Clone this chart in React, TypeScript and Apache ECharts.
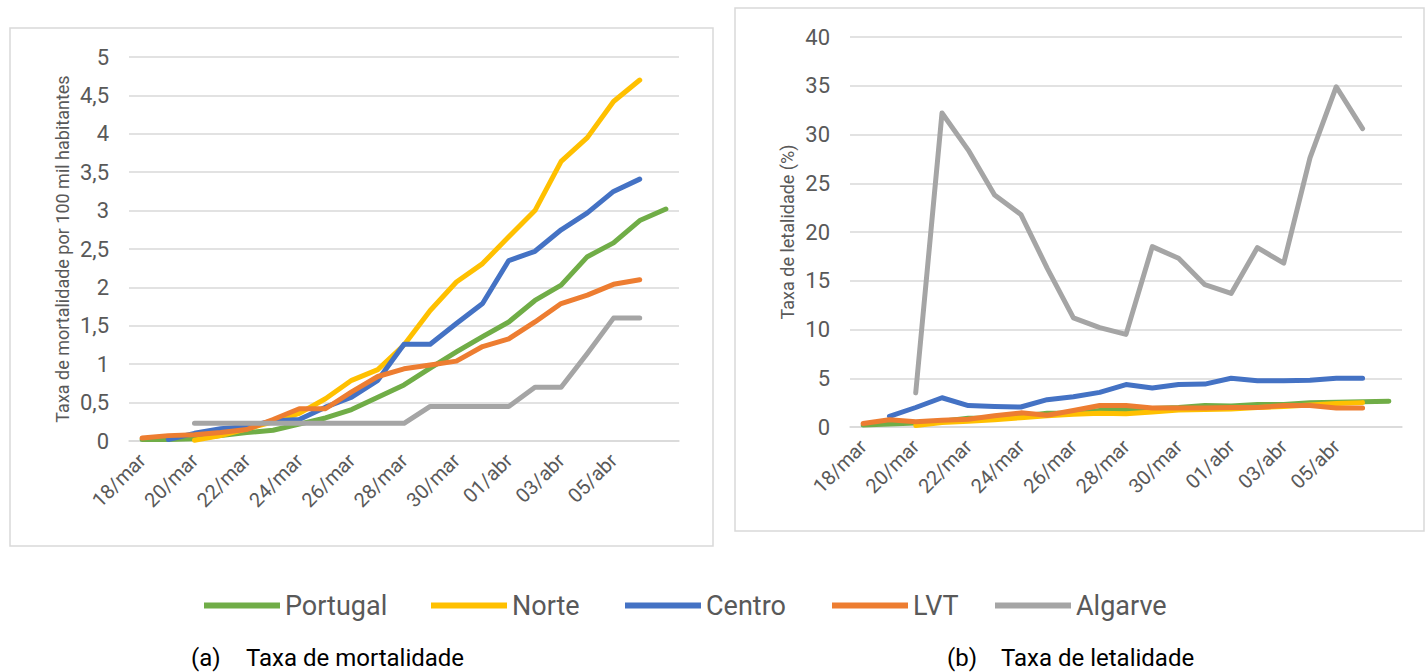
import React, { useEffect, useRef } from "react";
import * as echarts from "echarts";

const dates = [
  "18/mar", "19/mar", "20/mar", "21/mar", "22/mar", "23/mar", "24/mar",
  "25/mar", "26/mar", "27/mar", "28/mar", "29/mar", "30/mar", "31/mar",
  "01/abr", "02/abr", "03/abr", "04/abr", "05/abr", "06/abr", "07/abr",
];

const seriesNames = ["Portugal", "Norte", "Centro", "LVT", "Algarve"];
const seriesColors = ["#70AD47", "#FFC000", "#4472C4", "#ED7D31", "#A5A5A5"];

// (a) Taxa de mortalidade por 100 mil habitantes
const mortPortugal = [0.02, 0.02, 0.03, 0.07, 0.11, 0.14, 0.22, 0.3, 0.41, 0.57, 0.73, 0.95, 1.16, 1.36, 1.55, 1.83, 2.03, 2.4, 2.58, 2.87, 3.02];
const mortNorte = [null, null, 0.01, 0.07, 0.16, 0.25, 0.36, 0.55, 0.79, 0.93, 1.25, 1.7, 2.07, 2.31, 2.66, 3.0, 3.64, 3.95, 4.42, 4.7, null];
const mortCentro = [null, 0.02, 0.1, 0.16, 0.19, 0.26, 0.28, 0.44, 0.57, 0.79, 1.26, 1.26, 1.53, 1.79, 2.35, 2.47, 2.75, 2.97, 3.25, 3.41, null];
const mortLVT = [0.04, 0.07, 0.08, 0.11, 0.15, 0.28, 0.42, 0.42, 0.64, 0.84, 0.94, 0.99, 1.04, 1.23, 1.33, 1.55, 1.79, 1.9, 2.04, 2.1, null];
const mortAlgarve = [null, null, 0.23, 0.23, 0.23, 0.23, 0.23, 0.23, 0.23, 0.23, 0.23, 0.45, 0.45, 0.45, 0.45, 0.7, 0.7, 1.14, 1.6, 1.6, null];

// (b) Taxa de letalidade (%)
const letPortugal = [0.2, 0.3, 0.4, 0.6, 0.9, 0.9, 1.1, 1.4, 1.4, 1.7, 1.8, 1.9, 2.0, 2.2, 2.15, 2.3, 2.3, 2.5, 2.55, 2.6, 2.65];
const letNorte = [null, null, 0.15, 0.45, 0.6, 0.75, 0.95, 1.15, 1.3, 1.4, 1.35, 1.55, 1.75, 1.8, 1.85, 2.0, 2.1, 2.25, 2.4, 2.5, null];
const letCentro = [null, 1.1, 2.0, 3.0, 2.2, 2.1, 2.05, 2.8, 3.1, 3.55, 4.35, 4.0, 4.35, 4.4, 5.0, 4.75, 4.75, 4.8, 5.0, 5.0, null];
const letLVT = [0.35, 0.75, 0.55, 0.7, 0.8, 1.15, 1.45, 1.2, 1.7, 2.2, 2.2, 1.95, 1.95, 1.95, 2.0, 2.0, 2.2, 2.2, 1.95, 1.95, null];
const letAlgarve = [null, null, 3.5, 32.2, 28.4, 23.8, 21.8, 16.3, 11.2, 10.2, 9.5, 18.5, 17.3, 14.6, 13.7, 18.4, 16.8, 27.6, 34.9, 30.6, null];

const mortData = [mortPortugal, mortNorte, mortCentro, mortLVT, mortAlgarve];
const letData = [letPortugal, letNorte, letCentro, letLVT, letAlgarve];

const captionALabel = "(a)";
const captionAText = "Taxa de mortalidade";
const captionBLabel = "(b)";
const captionBText = "Taxa de letalidade";
const yNameA = "Taxa de mortalidade por 100 mil habitantes";
const yNameB = "Taxa de letalidade (%)";

const FONT = "Roboto, 'Noto Sans', sans-serif";
const LABEL = "#595959";
const GRID = "#D9D9D9";
const legendLefts = [199, 426, 620, 827, 990];

export default function App() {
  const ref = useRef<HTMLDivElement>(null);

  useEffect(() => {
    document.body.style.margin = "0";
    const chart = echarts.init(ref.current!, null, { renderer: "svg" });

    const xAxisBase = (gridIndex: number) => ({
      type: "category" as const,
      gridIndex,
      data: dates,
      boundaryGap: true,
      axisTick: { show: false },
      axisLine: { show: true, lineStyle: { color: GRID, width: 1.5 } },
      axisLabel: {
        rotate: 45,
        interval: (i: number) => i % 2 === 0 && i < dates.length - 1,
        color: LABEL,
        fontSize: 20,
        fontFamily: FONT,
        margin: 16,
      },
    });

    const yAxisBase = (gridIndex: number, max: number, interval: number, name: string, nameGap: number) => ({
      type: "value" as const,
      gridIndex,
      min: 0,
      max,
      interval,
      name,
      nameLocation: "middle" as const,
      nameGap,
      nameTextStyle: { color: LABEL, fontSize: 18, fontFamily: FONT },
      axisLine: { show: false },
      axisTick: { show: false },
      splitLine: { lineStyle: { color: GRID, width: 1.5 } },
      axisLabel: {
        color: LABEL,
        fontSize: 22,
        fontFamily: FONT,
        margin: 20,
        formatter: (v: number) => String(v).replace(".", ","),
      },
    });

    const mkSeries = (data: (number | null)[][], axisIndex: number) =>
      seriesNames.map((name, k) => ({
        name,
        type: "line" as const,
        xAxisIndex: axisIndex,
        yAxisIndex: axisIndex,
        data: data[k],
        color: seriesColors[k],
        symbol: "none",
        connectNulls: false,
        lineStyle: { width: 5, color: seriesColors[k], cap: "round", join: "round" },
      }));

    const capStyle = { fontSize: 24, fill: "#000000", fontFamily: FONT };

    chart.setOption({
      animation: false,
      backgroundColor: "#ffffff",
      grid: [
        { left: 129, top: 57, width: 550, height: 384 },
        { left: 850, top: 37, width: 552, height: 390 },
      ],
      xAxis: [xAxisBase(0), xAxisBase(1)],
      yAxis: [
        yAxisBase(0, 5, 0.5, yNameA, 58),
        yAxisBase(1, 40, 5, yNameB, 54),
      ],
      legend: seriesNames.map((n, k) => ({
        data: [n],
        left: legendLefts[k],
        top: 587,
        icon: "rect",
        itemWidth: 76,
        itemHeight: 6,
        selectedMode: false,
        textStyle: { color: LABEL, fontSize: 27, fontFamily: FONT },
      })),
      graphic: [
        {
          type: "rect",
          shape: { x: 10, y: 28, width: 703, height: 518 },
          style: { fill: "none", stroke: GRID, lineWidth: 1.5 },
          z: -1,
        },
        {
          type: "rect",
          shape: { x: 735, y: 8, width: 689, height: 523 },
          style: { fill: "none", stroke: GRID, lineWidth: 1.5 },
          z: -1,
        },
        { type: "text", left: 191, top: 646, style: { ...capStyle, text: captionALabel } },
        { type: "text", left: 246, top: 646, style: { ...capStyle, text: captionAText } },
        { type: "text", left: 947, top: 646, style: { ...capStyle, text: captionBLabel } },
        { type: "text", left: 1001, top: 646, style: { ...capStyle, text: captionBText } },
      ],
      series: [...mkSeries(mortData, 0), ...mkSeries(letData, 1)],
    });

    return () => chart.dispose();
  }, []);

  return <div ref={ref} style={{ width: 1426, height: 672 }} />;
}
